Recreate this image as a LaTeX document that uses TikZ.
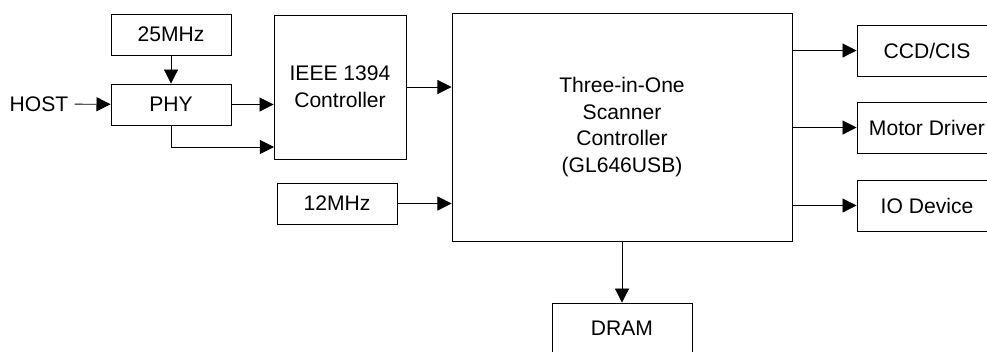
\documentclass[tikz,border=0pt]{standalone}
\usepackage{fontspec}
\setmainfont{Liberation Sans}
\usetikzlibrary{arrows.meta}
\begin{document}
\begin{tikzpicture}[x=0.025cm, y=-0.025cm, line join=miter, font=\fontsize{15}{19}\selectfont, >={Triangle[length=10pt,width=10pt]}]
			\tikzset{box/.style={draw, line width=0.6pt, inner sep=0pt, align=center}}
			\tikzset{link/.style={->, line width=0.6pt}}
			\useasboundingbox (0,0) rectangle (987,351);
			\node[box, minimum width=3cm, minimum height=1.025cm] (clkA) at (171,34.5) {25MHz};
			\node[box, minimum width=3cm, minimum height=1.025cm] (phy) at (171,104.5) {PHY};
			\node[inner sep=4.3pt] (host) at (39,104) {HOST};
			\node[box, minimum width=3.3cm, minimum height=3.6cm] (ieee) at (340,87) {IEEE 1394\\Controller};
			\node[box, minimum width=3cm, minimum height=1.025cm] (clkB) at (337,203.5) {12MHz};
			\node[box, minimum width=8.5cm, minimum height=5.7cm] (scan) at (622,127) {Three-in-One\\Scanner\\Controller\\(GL646USB)};
			\node[box, minimum width=3.5cm, minimum height=1.275cm] (ccd) at (927,50.5) {CCD/CIS};
			\node[box, minimum width=3.5cm, minimum height=1.275cm] (motor) at (927,127.5) {Motor Driver};
			\node[box, minimum width=3.5cm, minimum height=1.275cm] (io) at (927,205.5) {IO Device};
			\node[box, minimum width=3.5cm, minimum height=1.275cm] (dram) at (622,328.5) {DRAM};
			\coordinate (ieeein) at (274,147);
			\draw[link] (host) -- (phy);
			\draw[link] (clkA) -- (phy);
			\draw[link] (phy) -- (phy -| ieee.west);
			\draw[link] (phy.south) |- (ieeein);
			\draw[link] (ieee) -- (ieee -| scan.west);
			\draw[link] (clkB) -- (clkB -| scan.west);
			\draw[link] (ccd -| scan.east) -- (ccd);
			\draw[link] (motor -| scan.east) -- (motor);
			\draw[link] (io -| scan.east) -- (io);
			\draw[link] (scan) -- (dram);
	\end{tikzpicture}
\end{document}
